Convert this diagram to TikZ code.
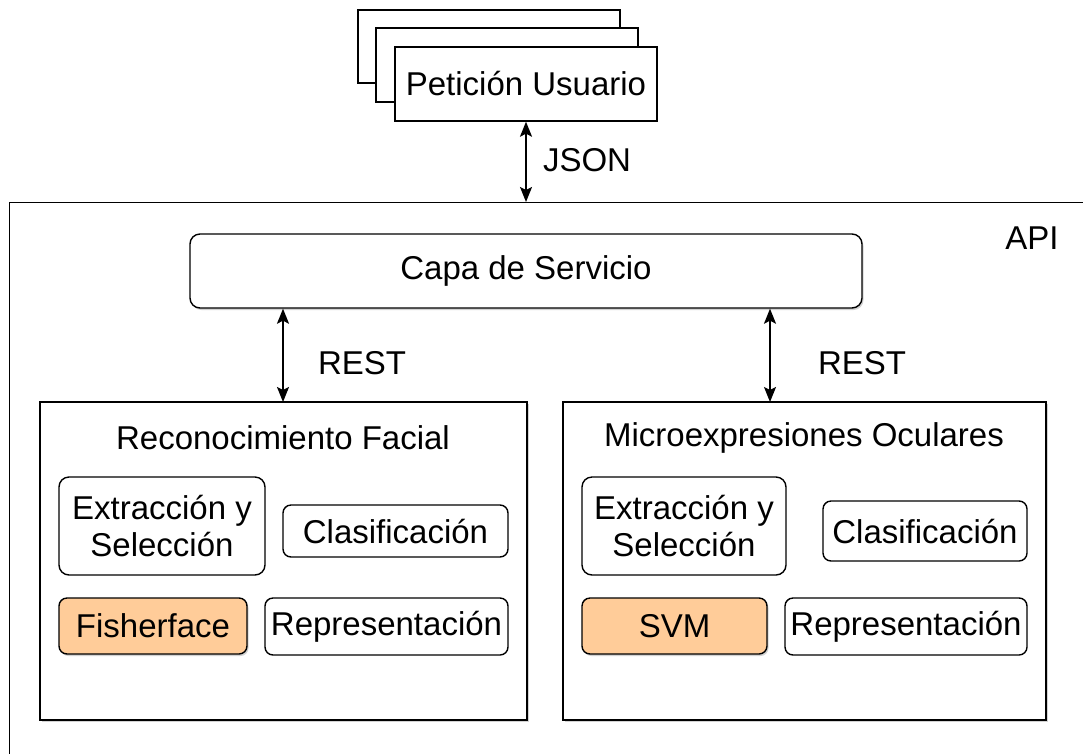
\documentclass[tikz,border=0pt]{standalone}
\usepackage{fontspec}
\setmainfont{Liberation Sans}
\usetikzlibrary{arrows.meta,shadows}
\definecolor{peach}{RGB}{255,204,153}
\begin{document}
\begin{tikzpicture}[x=1pt,y=-1pt,line width=1.4pt,
  txt/.style={font=\fontsize{33}{37}\selectfont},
  sq/.style={draw,fill=white,inner sep=0pt},
  rbox/.style={draw,fill=white,rounded corners=10pt,inner sep=0pt,align=center,txt},
  shd/.style={drop shadow={shadow xshift=1.5pt,shadow yshift=-2pt,opacity=0.35}},
  tip/.tip={Stealth[length=15pt,width=12pt,inset=3pt]},
  conn/.style={tip-tip,line width=1.5pt}]
\useasboundingbox (0,0) rectangle (1083,753);
\clip (0,0) rectangle (1083,753);
\fill[white] (0,0) rectangle (1083,753);
% stacked user requests
\node[sq,minimum width=262pt,minimum height=73pt] (stackA) at (489,46.5) {};
\node[sq,minimum width=262pt,minimum height=74pt] (stackB) at (507,65) {};
\node[sq,txt,minimum width=262pt,minimum height=74pt] (user) at (526,84) {Petición Usuario};
% API outer box (extends beyond picture)
\node[sq,fill=none,anchor=north west,minimum width=1200pt,minimum height=700pt] (api) at (9,202) {};
\node[txt,anchor=center] (apil) at (1032,238) {API};
\coordinate (jsonend) at (user.south |- api.north);
\draw[conn] (user.south) -- (jsonend);
\node[txt] (json) at (587,160) {JSON};
% service layer
\node[rbox,shd,minimum width=672pt,minimum height=74pt] (capa) at (526,271) {Capa de Servicio};
% module boxes
\node[sq,shd,minimum width=487pt,minimum height=318pt] (lb) at (283.5,561) {};
\node[sq,shd,minimum width=483pt,minimum height=318pt] (rb) at (804.5,561) {};
\node[txt] (lbt) at (283,438) {Reconocimiento Facial};
\node[txt] (rbt) at (804,438) {Microexpresiones Oculares};
% REST connectors
\coordinate (la) at (283,402);
\coordinate (ra) at (770,402);
\draw[conn] (capa.south -| la) -- (la);
\draw[conn] (capa.south -| ra) -- (ra);
\node[txt] (rest1) at (362,363) {REST};
\node[txt] (rest2) at (862,363) {REST};
% left inner boxes
\node[rbox,minimum width=206pt,minimum height=98pt] (ext1) at (162,526) {Extracción y\\Selección};
\node[rbox,minimum width=225pt,minimum height=52pt,rounded corners=8pt] (cla1) at (395.5,531) {Clasificación};
\node[rbox,shd,fill=peach,minimum width=188pt,minimum height=56pt,rounded corners=8pt] (fis) at (153,626) {Fisherface};
\node[rbox,minimum width=243pt,minimum height=57pt,rounded corners=8pt] (rep1) at (386.5,626.5) {Representación};
% right inner boxes
\node[rbox,minimum width=204pt,minimum height=98pt] (ext2) at (684,526) {Extracción y\\Selección};
\node[rbox,minimum width=204pt,minimum height=60pt,rounded corners=8pt] (cla2) at (925,531) {Clasificación};
\node[rbox,shd,fill=peach,minimum width=185pt,minimum height=56pt,rounded corners=8pt] (svm) at (674.5,626) {SVM};
\node[rbox,minimum width=242pt,minimum height=57pt,rounded corners=8pt] (rep2) at (906,626.5) {Representación};
\end{tikzpicture}
\end{document}
